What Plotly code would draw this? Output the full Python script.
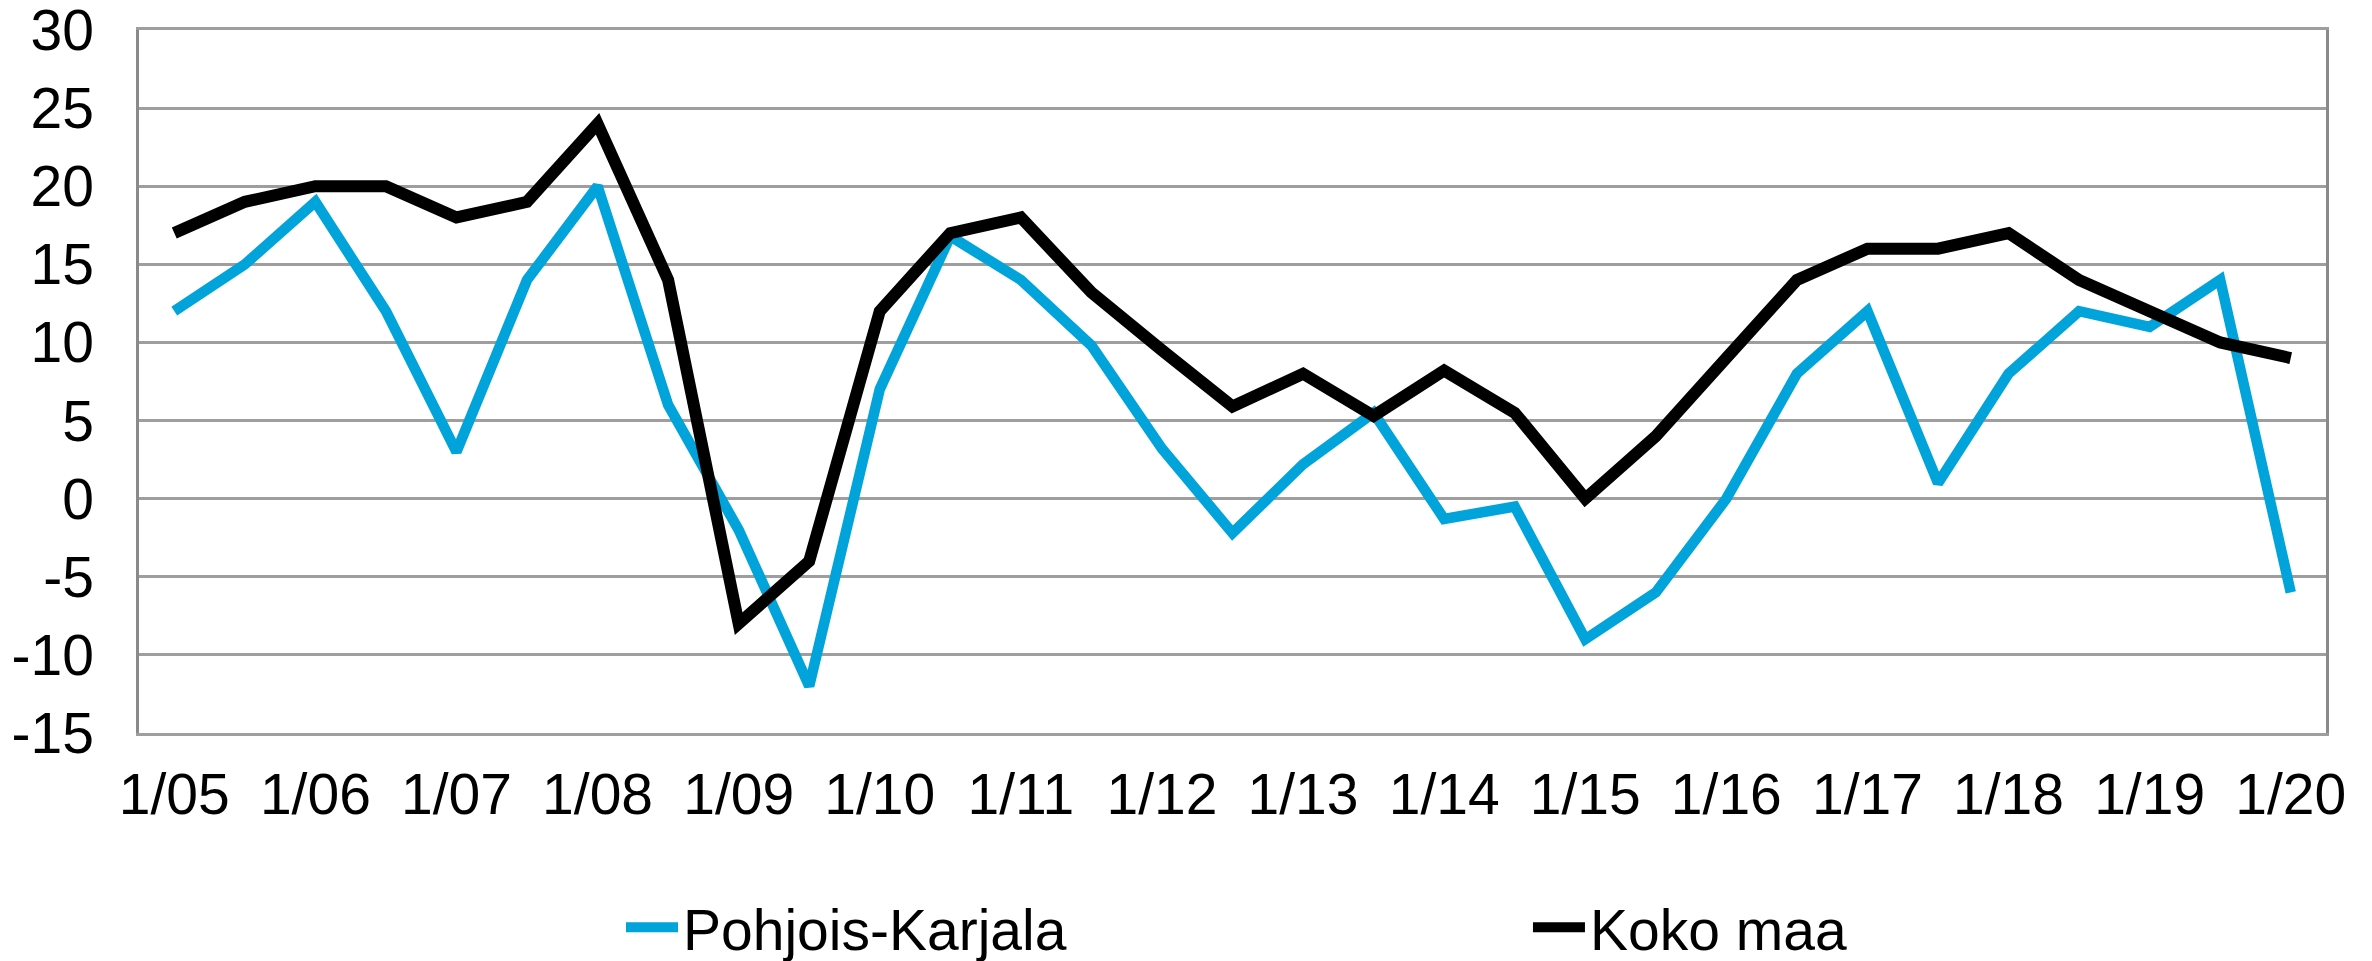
import plotly.graph_objects as go

periods = ["1/05", "7/05", "1/06", "7/06", "1/07", "7/07", "1/08", "7/08", "1/09", "7/09",
           "1/10", "7/10", "1/11", "7/11", "1/12", "7/12", "1/13", "7/13", "1/14", "7/14",
           "1/15", "7/15", "1/16", "7/16", "1/17", "7/17", "1/18", "7/18", "1/19", "7/19", "1/20"]

pohjois_karjala = [12, 15, 19, 12, 3, 14, 20, 6, -2, -12,
                   7, 16.8, 14, 9.8, 3.2, -2.2, 2.2, 5.5, -1.3, -0.5,
                   -9, -6, 0, 8, 12, 1, 8, 12, 11, 14, -6]

koko_maa = [17, 19, 20, 20, 18, 19, 24, 14, -8, -4,
            12, 17, 18, 13.2, 9.5, 5.9, 8, 5.3, 8.2, 5.5,
            0, 4, 9, 14, 16, 16, 17, 14, 12, 10, 9]

tick_labels = [p for p in periods if p.startswith("1/")]
y_ticks = [-15, -10, -5, 0, 5, 10, 15, 20, 25, 30]
y_tick_text = [str(v) for v in y_ticks]

FONT = "Liberation Sans, Arial, sans-serif"
FS = 57
GRID = "#9E9E9E"

fig = go.Figure()
fig.add_trace(go.Scatter(x=periods, y=pohjois_karjala, mode="lines", name="Pohjois-Karjala",
                         line=dict(color="#00A3DA", width=10.5), legend="legend"))
fig.add_trace(go.Scatter(x=periods, y=koko_maa, mode="lines", name="Koko maa",
                         line=dict(color="#000000", width=12), legend="legend2"))

leg_common = dict(orientation="h", xanchor="left", y=-0.277, yanchor="middle",
                  itemwidth=52, font=dict(family=FONT, size=FS, color="black"),
                  bgcolor="rgba(0,0,0,0)", borderwidth=0)

fig.update_layout(
    width=2372, height=961,
    margin=dict(l=139, r=46, t=30, b=228, autoexpand=False),
    paper_bgcolor="white", plot_bgcolor="white",
    font=dict(family=FONT, size=FS, color="black"),
    showlegend=True,
    legend=dict(x=0.2204, **leg_common),
    legend2=dict(x=0.6351, **leg_common),
    xaxis=dict(type="category", categoryorder="array", categoryarray=periods,
               range=[-0.5, len(periods) - 0.5], automargin=False,
               tickmode="array", tickvals=tick_labels, ticktext=tick_labels,
               showgrid=False, showline=True, linecolor=GRID, linewidth=2.5, mirror=True,
               ticks="", ticklabelstandoff=10, ticklabeloverflow="allow",
               tickfont=dict(size=FS)),
    yaxis=dict(range=[-15, 30], tickmode="array", tickvals=y_ticks, ticktext=y_tick_text,
               automargin=False, ticklabeloverflow="allow",
               showgrid=True, gridcolor=GRID, gridwidth=2.5,
               zeroline=False, showline=True, linecolor="#8A8A8A", linewidth=2.5, mirror=True,
               ticks="", ticklabelstandoff=31, tickfont=dict(size=FS)),
)

fig.write_html("out.html",
               config={"displayModeBar": False},
               post_script="document.body.style.margin='0';document.body.style.overflow='hidden';")
